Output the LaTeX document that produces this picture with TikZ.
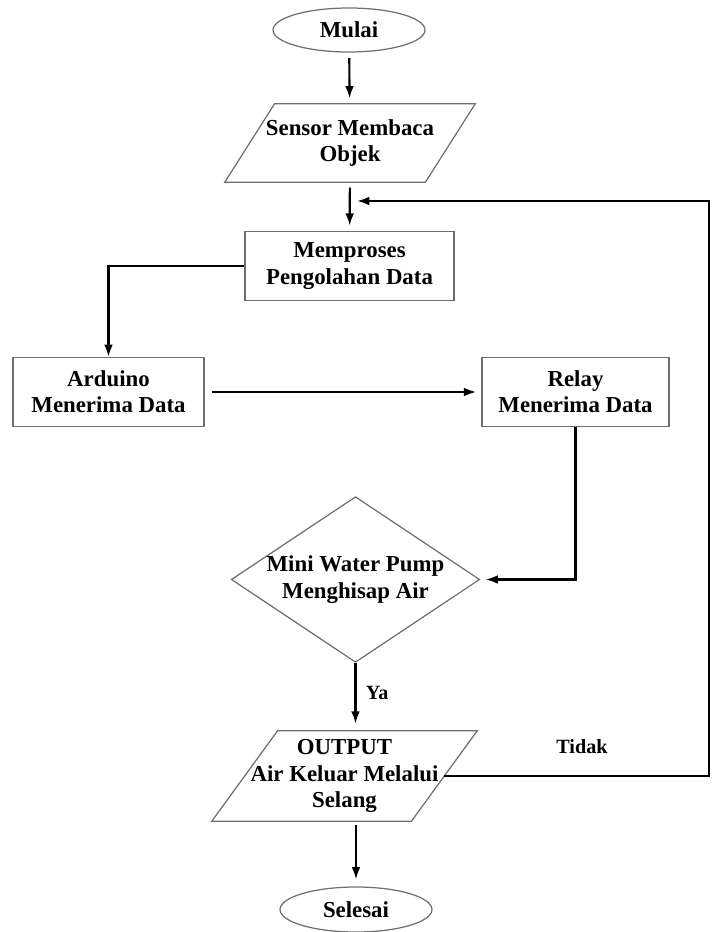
\documentclass[tikz,border=0pt]{standalone}
\usepackage{fontspec}
\setmainfont{Liberation Serif}
\usepackage{tikz}
\usetikzlibrary{shapes.geometric, arrows.meta, positioning, calc}
\definecolor{edgegray}{RGB}{110, 110, 110}
\tikzstyle{terminal} = [
    ellipse,
    minimum width=3.04cm,
    minimum height=0.88cm,
    inner sep=1pt,
    draw=edgegray,
    line width=0.7pt,
    font=\fontsize{13}{15}\selectfont\bfseries
]
\tikzstyle{io} = [
    rectangle,
    minimum width=4cm,
    minimum height=1.56cm,
    align=center,
    inner sep=1pt,
    font=\fontsize{13}{15}\selectfont\bfseries
]
\tikzstyle{ioedge} = [
    draw=edgegray,
    line width=0.7pt
]
\tikzstyle{process} = [
    rectangle,
    minimum height=1.38cm,
    align=center,
    draw=edgegray,
    line width=0.7pt,
    font=\fontsize{13}{15}\selectfont\bfseries
]
\tikzstyle{decision} = [
    diamond,
    aspect=1.5,
    inner sep=0pt,
    minimum width=4.9cm,
    minimum height=3.22cm,
    align=center,
    draw=edgegray,
    line width=0.7pt,
    font=\fontsize{13}{15}\selectfont\bfseries
]
\tikzstyle{arrow} = [
    line width=1.2pt,
    ->,
    >={Latex[length=7pt,width=5pt]}
]
\tikzstyle{flowlabel} = [
    font=\fontsize{11.5}{13}\selectfont\bfseries
]
% slanted frame round an io node: #1 node name, #2 half of the slant
\newcommand{\ioframe}[2]{%
    \draw[ioedge] ([xshift=#2]#1.north west) -- ([xshift=#2]#1.north east)
        -- ([xshift=-#2]#1.south east) -- ([xshift=-#2]#1.south west) -- cycle;}

\begin{document}
\begin{tikzpicture}[x=0.02cm, y=-0.02cm]
        \useasboundingbox (0,0) rectangle (711,932);

        % Start and input
        \node[terminal] (mulai) at (349, 30) {Mulai};
        \node[io] (sensor) at (350, 143) {Sensor Membaca\\Objek};
        \ioframe{sensor}{0.5cm}

        % Processing
        \node[process, minimum width=4.18cm] (proses) at (349.5, 266) {Memproses\\Pengolahan Data};
        \node[process, minimum width=3.82cm] (arduino) at (108.5, 392) {Arduino\\Menerima Data};
        \node[process, minimum width=3.74cm] (relay) at (575.5, 392) {Relay\\Menerima Data};

        % Decision
        \node[decision] (pump) at (355.5, 579.5) {Mini Water Pump\\Menghisap Air};

        % Output and end
        \node[io, minimum width=3.98cm, minimum height=1.8cm] (output) at (344.5, 776)
              {OUTPUT\\Air Keluar Melalui\\Selang};
        \ioframe{output}{0.66cm}
        \node[terminal, minimum height=0.9cm] (selesai) at (356, 909.5) {Selesai};

        % Loop points
        \coordinate (merge) at (350, 201);
        \coordinate (back) at (709, 201);

        % Connections
        \draw[arrow, shorten <=3pt, shorten >=3pt] (mulai) -- (sensor);
        \draw[arrow, shorten <=3pt, shorten >=3pt] (sensor) -- (proses);
        \draw[arrow] (proses.west) -| (arduino.north);
        \draw[arrow, shorten <=4pt, shorten >=3pt] (arduino) -- (relay);
        \draw[arrow, shorten >=3pt] (relay.south) |- (pump.east);
        \draw[arrow, shorten >=4pt] (pump.south) -- node[flowlabel, right=2pt, pos=0.45]{Ya} (pump.south |- output.north);
        \draw[arrow, shorten <=2pt, shorten >=4pt] (output.south -| selesai) -- (selesai);
        \draw[arrow, shorten >=4pt] (output.east) -| node[flowlabel, pos=0.26, above=9pt]{Tidak} (back) -- (merge);
    \end{tikzpicture}
\end{document}
